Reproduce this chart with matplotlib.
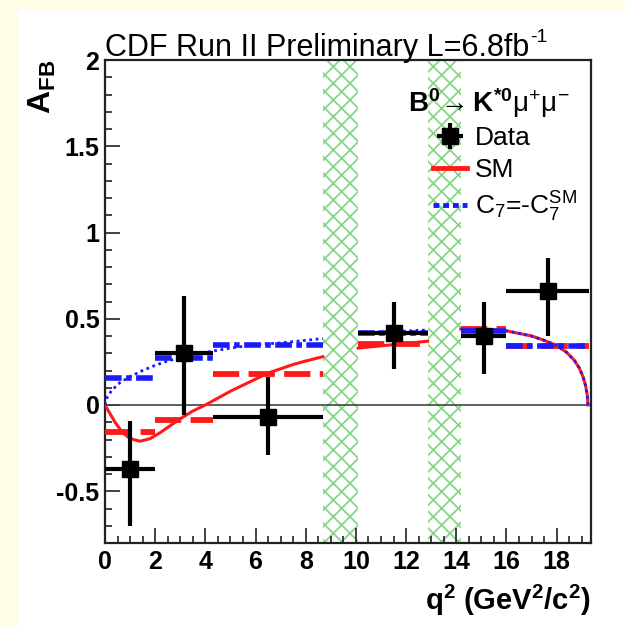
import numpy as np
import matplotlib
matplotlib.use('Agg')
import matplotlib.pyplot as plt
from matplotlib.lines import Line2D
from matplotlib.patches import Rectangle

plt.rcParams['font.family'] = ['Liberation Sans', 'DejaVu Sans']
plt.rcParams['mathtext.fontset'] = 'custom'
plt.rcParams['mathtext.rm'] = 'Liberation Sans'
plt.rcParams['mathtext.it'] = 'Liberation Sans:italic'
plt.rcParams['mathtext.bf'] = 'Liberation Sans:bold'
plt.rcParams['hatch.linewidth'] = 1.3

# bins in q^2 (GeV^2/c^2)
bin_lo = np.array([0.0, 2.0, 4.3, 10.09, 14.18, 16.0])
bin_hi = np.array([2.0, 4.3, 8.68, 12.86, 16.0, 19.3])

# measured A_FB
data_x = np.array([1.0, 3.15, 6.5, 11.5, 15.1, 17.65])
data_y = np.array([-0.37, 0.30, -0.07, 0.42, 0.40, 0.66])
err_up = np.array([0.28, 0.33, 0.23, 0.18, 0.20, 0.19])
err_dn = np.array([0.33, 0.36, 0.22, 0.21, 0.22, 0.26])

# binned predictions
sm_bin = np.array([-0.155, -0.087, 0.18, 0.355, 0.44, 0.34])
c7_bin = np.array([0.155, 0.27, 0.345, 0.42, 0.43, 0.34])

# charmonium veto regions
veto = [(8.68, 10.09), (12.86, 14.18)]

# SM curve
sm_q2_a = [0, 0.2, 0.4, 0.7, 1.0, 1.4, 1.8, 2.2, 2.6, 3.0, 3.5, 4.0, 4.5, 5.0,
           5.5, 6.0, 6.5, 7.0, 7.5, 8.0, 8.68]
sm_afb_a = [0, -0.05, -0.10, -0.16, -0.195, -0.21, -0.195, -0.16, -0.12, -0.08,
            -0.035, 0.0, 0.04, 0.08, 0.115, 0.15, 0.185, 0.21, 0.235, 0.255, 0.28]
sm_q2_b = [10.09, 11.5, 12.86]
sm_afb_b = [0.33, 0.35, 0.37]
sm_q2_c = [14.18, 15.0, 16.0, 16.5, 17.0, 17.5, 18.0, 18.4, 18.7, 18.9, 19.05,
           19.15, 19.22, 19.25]
sm_afb_c = [0.44, 0.44, 0.43, 0.415, 0.40, 0.375, 0.345, 0.305, 0.26, 0.215,
            0.165, 0.115, 0.06, 0.0]

# C7 = -C7(SM) curve
c7_q2_a = [0, 0.1, 0.3, 0.6, 1.0, 1.5, 2.0, 2.5, 3.0, 4.0, 5.0, 6.0, 7.0, 8.0, 8.68]
c7_afb_a = [0, 0.05, 0.09, 0.13, 0.165, 0.20, 0.23, 0.255, 0.275, 0.305, 0.33,
            0.35, 0.36, 0.375, 0.385]
c7_q2_b = [10.09, 11.5, 12.86]
c7_afb_b = [0.42, 0.425, 0.435]
c7_q2_c = sm_q2_c
c7_afb_c = sm_afb_c

fig = plt.figure(figsize=(6.25, 6.26), dpi=100, facecolor='#fffde6')
fig.patches.append(Rectangle((18 / 625, 0), 1, 1 - 10 / 626, transform=fig.transFigure,
                             facecolor='white', edgecolor='none', zorder=-10))
ax = fig.add_axes([105 / 625, 1 - 543 / 626, 486 / 625, 483 / 626])

for lo, hi in veto:
    ax.axvspan(lo, hi, facecolor='none', edgecolor='#86d686', hatch='xx',
               linewidth=0, zorder=1)

ax.axhline(0, color='#444444', lw=1.2, zorder=2)

red = '#ff1a1a'
blue = '#1a1aff'

for q, a in [(sm_q2_a, sm_afb_a), (sm_q2_b, sm_afb_b), (sm_q2_c, sm_afb_c)]:
    ax.plot(q, a, color=red, lw=2.2, zorder=3)
for lo, hi, v in zip(bin_lo, bin_hi, sm_bin):
    ax.plot([lo, hi], [v, v], color=red, lw=4.2, dashes=(4.5, 1.6), zorder=3)
for lo, hi, v in zip(bin_lo, bin_hi, c7_bin):
    ax.plot([lo, hi], [v, v], color=blue, lw=4.0, dashes=(3, 0.8, 1, 0.8), zorder=4)
for q, a in [(c7_q2_a, c7_afb_a), (c7_q2_b, c7_afb_b), (c7_q2_c, c7_afb_c)]:
    ax.plot(q, a, color=blue, lw=2.0, ls=(0, (1, 1.3)), zorder=4)

cont = ax.errorbar(data_x, data_y, xerr=[data_x - bin_lo, bin_hi - data_x],
                   yerr=[err_dn, err_up], fmt='s', color='black', ms=11,
                   elinewidth=3, capsize=0, zorder=6)

ax.set_xlim(0, 19.37)
ax.set_ylim(-0.8, 2.0)
ax.set_xticks(np.arange(0, 19, 2))
ax.set_xticks(np.arange(0, 19.3, 0.5), minor=True)
ax.set_yticks([-0.5, 0, 0.5, 1, 1.5, 2])
ax.set_yticklabels(['-0.5', '0', '0.5', '1', '1.5', '2'])
ax.set_yticks(np.arange(-0.8, 2.01, 0.1), minor=True)
ax.tick_params(which='both', direction='in', top=False, right=False,
               labelsize=18, width=1.2, colors='#222222')
ax.tick_params(which='major', length=11, pad=5)
ax.tick_params(which='minor', length=5)
ax.tick_params(axis='y', pad=4)
for lab in ax.get_xticklabels() + ax.get_yticklabels():
    lab.set_fontweight('bold')
    lab.set_color('black')
for s in ax.spines.values():
    s.set_linewidth(1.6)
    s.set_color('#222222')

# title with a plain-hyphen superscript
t = fig.text(105 / 625, 1 - 56 / 626, 'CDF Run II Preliminary L=6.8fb',
             fontsize=22, ha='left', va='baseline')
fig.canvas.draw()
bb = t.get_window_extent().transformed(fig.transFigure.inverted())
fig.text(bb.x1 + 1 / 625, 1 - 42 / 626, '-1', fontsize=14, ha='left', va='baseline')

fig.text(42 / 625, 1 - 60 / 626, r'$\mathbf{A_{FB}}$', fontsize=23, rotation=90,
         ha='center', va='top')
fig.text(591 / 625, 1 - 610 / 626, r'$\mathbf{q^2\ (GeV^2/c^2)}$', fontsize=21,
         ha='right', va='baseline')
fig.text(408 / 625, 1 - 112 / 626,
         r'$\mathbf{B^0}\!\rightarrow\mathbf{K^{*0}}\mathrm{\mu^{+}\mu^{-}}$',
         fontsize=20, ha='left', va='baseline')

handles = [cont,
           Line2D([], [], color=red, lw=3.5),
           Line2D([], [], color=blue, lw=3.5, dashes=(1.2, 0.8))]
labels = ['Data', 'SM', r'C$_7$=-C$_7^{\mathrm{SM}}$']
ax.legend(handles, labels, loc='upper left', bbox_to_anchor=(328 / 486, 1 - 66 / 483),
          frameon=False, fontsize=19, handlelength=1.3, handletextpad=0.3,
          labelspacing=0.3, borderaxespad=0, borderpad=0)

fig.savefig('out.png', dpi=100, facecolor=fig.get_facecolor())
